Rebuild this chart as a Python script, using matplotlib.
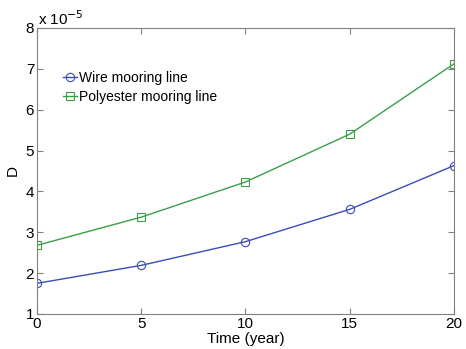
import numpy as np
import matplotlib.pyplot as plt

plt.rcParams['font.family'] = ['Liberation Sans', 'DejaVu Sans']

# dati (D in unita di 1e-5)
time_year = [0, 5, 10, 15, 20]
d_wire = [1.75, 2.19, 2.77, 3.56, 4.63]
d_poly = [2.68, 3.37, 4.23, 5.40, 7.12]

fig = plt.figure(figsize=(4.66, 3.49), dpi=100)
ax = fig.add_axes([0.0794, 0.1003, 0.8946, 0.8197])

ax.plot(time_year, d_wire, '-o', color='#3b4cb8', lw=1.0, ms=6,
        mfc='none', mew=0.8, label='Wire mooring line')
ax.plot(time_year, d_poly, '-s', color='#3a9f48', lw=1.0, ms=5.5,
        mfc='none', mew=0.8, label='Polyester mooring line')

ax.set_xlim(0, 20)
ax.set_ylim(1, 8)
ax.set_xticks([0, 5, 10, 15, 20])
ax.set_yticks([1, 2, 3, 4, 5, 6, 7, 8])
ax.tick_params(direction='in', top=True, right=True, labelsize=11,
               length=4, color='#808080', pad=2)
for s in ax.spines.values():
    s.set_color('#808080')
    s.set_linewidth(0.8)

ax.set_xlabel('Time (year)', fontsize=11, labelpad=1)
ax.set_ylabel('D', fontsize=11, labelpad=4)
ax.text(0.003, 1.0, 'x 10$^{-5}$', transform=ax.transAxes, fontsize=11,
        va='bottom', ha='left')

ax.legend(loc='upper left', bbox_to_anchor=(0.05, 0.87), frameon=False,
          fontsize=10, handlelength=1.0, handletextpad=0.15,
          labelspacing=0.35, borderaxespad=0)

fig.savefig('out.png', dpi=100)
